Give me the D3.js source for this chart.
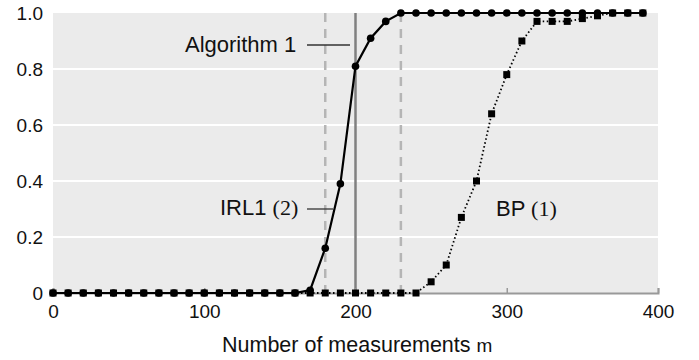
<!DOCTYPE html>
<html>
<head>
    <script src="https://d3js.org/d3.v7.min.js"></script>
    <style>
        body { margin: 0; background: #fff; }
        text { font-family: "Liberation Sans", Arial, sans-serif; fill: #111; }
        .serif { font-family: "Liberation Serif", "Times New Roman", serif; }
    </style>
</head>
<body>
    <script>
        // measurements m
        var mValues = [0, 10, 20, 30, 40, 50, 60, 70, 80, 90,
            100, 110, 120, 130, 140, 150, 160, 170, 180, 190,
            200, 210, 220, 230, 240, 250, 260, 270, 280, 290,
            300, 310, 320, 330, 340, 350, 360, 370, 380, 390];

        var alg1Values = [0, 0, 0, 0, 0, 0, 0, 0, 0, 0,
            0, 0, 0, 0, 0, 0, 0, 0.01, 0.16, 0.39,
            0.81, 0.91, 0.97, 1, 1, 1, 1, 1, 1, 1,
            1, 1, 1, 1, 1, 1, 1, 1, 1, 1];

        var bpValues = [0, 0, 0, 0, 0, 0, 0, 0, 0, 0,
            0, 0, 0, 0, 0, 0, 0, 0, 0, 0,
            0, 0, 0, 0, 0, 0.04, 0.10, 0.27, 0.40, 0.64,
            0.78, 0.90, 0.97, 0.97, 0.97, 0.98, 0.99, 1, 1, 1];

        var xTicks = [0, 100, 200, 300, 400];
        var yTicks = [0, 0.2, 0.4, 0.6, 0.8, 1.0];
        var refLines = [
            { m: 180, dashed: true },
            { m: 200, dashed: false },
            { m: 230, dashed: true }
        ];

        var width = 699, height = 360;
        var margin = { left: 53, right: 41, top: 13, bottom: 67 };

        var svg = d3.select("body").append("svg")
            .attr("width", width)
            .attr("height", height);

        var x = d3.scaleLinear().domain([0, 400]).range([margin.left, width - margin.right]);
        var y = d3.scaleLinear().domain([0, 1]).range([height - margin.bottom, margin.top]);

        // background
        svg.append("rect")
            .attr("x", x(0)).attr("y", y(1))
            .attr("width", x(400) - x(0))
            .attr("height", y(0) - y(1))
            .attr("fill", "#ebebeb");

        // horizontal grid
        svg.append("g").selectAll("line")
            .data(yTicks.slice(1, -1))
            .enter().append("line")
            .attr("x1", x(0)).attr("x2", x(400))
            .attr("y1", function (d) { return y(d); })
            .attr("y2", function (d) { return y(d); })
            .attr("stroke", "#fff")
            .attr("stroke-width", 2);

        // reference verticals
        svg.append("g").selectAll("line")
            .data(refLines)
            .enter().append("line")
            .attr("x1", function (d) { return x(d.m); })
            .attr("x2", function (d) { return x(d.m); })
            .attr("y1", y(1)).attr("y2", y(0))
            .attr("stroke", function (d) { return d.dashed ? "#b5b5b5" : "#808080"; })
            .attr("stroke-width", 2.5)
            .attr("stroke-dasharray", function (d) { return d.dashed ? "9,7" : null; });

        // bottom axis
        var xAxis = d3.axisBottom(x).tickValues(xTicks).tickSize(-5).tickFormat(d3.format("d"));
        var gx = svg.append("g")
            .attr("transform", "translate(0," + y(0) + ")")
            .call(xAxis);
        gx.select(".domain").attr("stroke", "#999").attr("stroke-width", 2);
        gx.selectAll(".tick line").attr("stroke", "#999").attr("stroke-width", 1.5);
        gx.selectAll(".tick text")
            .attr("y", 25)
            .attr("dy", 0)
            .style("font-size", "19px")
            .style("font-family", "Liberation Sans, Arial, sans-serif")
            .attr("fill", "#111");

        // y labels
        svg.append("g").selectAll("text")
            .data(yTicks)
            .enter().append("text")
            .attr("x", 43)
            .attr("y", function (d) { return y(d) + 7; })
            .attr("text-anchor", "end")
            .style("font-size", "19px")
            .text(function (d) { return d === 0 ? "0" : d3.format(".1f")(d); });

        var pts = function (vals) {
            return mValues.map(function (m, i) { return [m, vals[i]]; });
        };
        var line = d3.line()
            .x(function (d) { return x(d[0]); })
            .y(function (d) { return y(d[1]); });

        // BP series (dotted, squares)
        svg.append("path")
            .datum(pts(bpValues))
            .attr("d", line)
            .attr("fill", "none")
            .attr("stroke", "#000")
            .attr("stroke-width", 1.8)
            .attr("stroke-dasharray", "1.5,2.5");

        svg.append("g").selectAll("rect")
            .data(pts(bpValues))
            .enter().append("rect")
            .attr("x", function (d) { return x(d[0]) - 3.5; })
            .attr("y", function (d) { return y(d[1]) - 3.5; })
            .attr("width", 7).attr("height", 7)
            .attr("fill", "#000");

        // Algorithm 1 series (solid, circles)
        svg.append("path")
            .datum(pts(alg1Values))
            .attr("d", line)
            .attr("fill", "none")
            .attr("stroke", "#000")
            .attr("stroke-width", 2.2);

        svg.append("g").selectAll("circle")
            .data(pts(alg1Values))
            .enter().append("circle")
            .attr("cx", function (d) { return x(d[0]); })
            .attr("cy", function (d) { return y(d[1]); })
            .attr("r", 3.8)
            .attr("fill", "#000");

        // annotations
        var ann = svg.append("g").style("font-size", "22px");
        ann.append("text").attr("x", 185).attr("y", 52).text("Algorithm 1");
        ann.append("line")
            .attr("x1", 307).attr("x2", 350).attr("y1", 45).attr("y2", 45)
            .attr("stroke", "#333").attr("stroke-width", 1.3);

        var irl = ann.append("text").attr("x", 220).attr("y", 215);
        irl.append("tspan").text("IRL1 ");
        irl.append("tspan").attr("class", "serif").text("(2)");
        ann.append("line")
            .attr("x1", 307).attr("x2", 333).attr("y1", 209).attr("y2", 209)
            .attr("stroke", "#333").attr("stroke-width", 1.3);

        var bp = ann.append("text").attr("x", 496).attr("y", 216);
        bp.append("tspan").text("BP ");
        bp.append("tspan").attr("class", "serif").text("(1)");

        // axis title
        var xt = svg.append("text")
            .attr("x", 222).attr("y", 352)
            .style("font-size", "21.5px");
        xt.append("tspan").text("Number of measurements ");
        xt.append("tspan").style("font-size", "19px").text("m");
    </script>
</body>
</html>
